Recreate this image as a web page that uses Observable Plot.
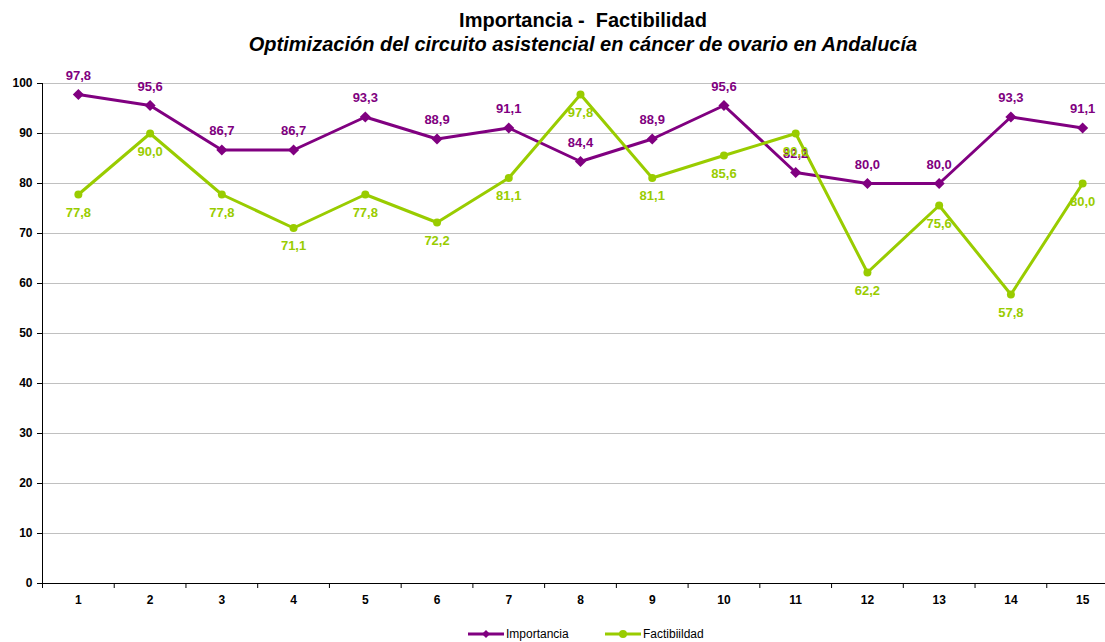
<!DOCTYPE html>
<html><head><meta charset="utf-8">
<script src="https://cdn.jsdelivr.net/npm/d3@7"></script>
<script src="https://cdn.jsdelivr.net/npm/@observablehq/plot@0.6"></script>
<style>
body{margin:0;background:#fff;font-family:"Liberation Sans",Arial,sans-serif;overflow:hidden;width:1105px;height:642px;position:relative}
.t{position:absolute;left:0;width:1166px;text-align:center;font-weight:bold;color:#000;white-space:pre;line-height:24px}
#chart{position:absolute;left:0;top:58px}
#legend{position:absolute;top:627px;left:0;width:1105px;font-size:12px}
.li{position:absolute;display:flex;align-items:center}
.li svg{margin-right:2px}
</style></head><body>
<div class="t" style="top:8px;font-size:20px">Importancia -  Factibilidad</div>
<div class="t" style="top:32px;font-size:20px;font-style:italic">Optimización del circuito asistencial en cáncer de ovario en Andalucía</div>
<div id="chart"></div>
<div id="legend"></div>
<script>
const categories = [1,2,3,4,5,6,7,8,9,10,11,12,13,14,15];
const importancia = [97.8,95.6,86.7,86.7,93.3,88.9,91.1,84.4,88.9,95.6,82.2,80.0,80.0,93.3,91.1];
const factibilidad = [77.8,90.0,77.8,71.1,77.8,72.2,81.1,97.8,81.1,85.6,90.0,62.2,75.6,57.8,80.0];
const yTicks = [0,10,20,30,40,50,60,70,80,90,100];
const seriesNames = ["Importancia","Factibilidad"];
const legendLabels = ["Importancia","Factibiildad"];
const colors = ["#800080","#99CC00"];

const dataI = categories.map((c,i)=>({x:c,y:importancia[i]}));
const dataF = categories.map((c,i)=>({x:c,y:factibilidad[i]}));
const fmt = v => v.toFixed(1).replace(".",",");
const edges = d3.range(0.5, 16, 1);

const chart = Plot.plot({
  width:1105, height:562,
  marginTop:25, marginBottom:37, marginLeft:42, marginRight:0,
  style:{fontFamily:'"Liberation Sans",Arial,sans-serif', overflow:"visible"},
  x:{type:"linear", domain:[0.5,15.5], range:[42,1118]},
  y:{domain:[0,100]},
  marks:[
    Plot.ruleY(yTicks.filter(d=>d>0),{stroke:"#c0c0c0",strokeWidth:1}),
    Plot.axisY({ticks:yTicks, tickSize:5, tickPadding:5, fontSize:12, fontWeight:"bold", fill:"#000", label:null}),
    Plot.axisX({ticks:edges, tickSize:5, tickFormat:()=>"", label:null}),
    Plot.axisX({ticks:categories, tickSize:0, tickPadding:12, fontSize:12, fontWeight:"bold", fill:"#000", label:null, tickFormat:d=>d}),
    Plot.ruleX([0.5],{stroke:"#000"}),
    Plot.ruleY([0],{stroke:"#000"}),
    Plot.line(dataI,{x:"x",y:"y",stroke:colors[0],strokeWidth:3}),
    Plot.line(dataF,{x:"x",y:"y",stroke:colors[1],strokeWidth:3}),
    Plot.dot(dataI,{x:"x",y:"y",symbol:"diamond2",r:5,fill:colors[0],stroke:"none"}),
    Plot.dot(dataF,{x:"x",y:"y",symbol:"circle",r:4,fill:colors[1],stroke:"none"}),
    Plot.text(dataI,{x:"x",y:"y",text:d=>fmt(d.y),dy:-19,fill:colors[0],fontSize:13,fontWeight:"bold"}),
    Plot.text(dataF,{x:"x",y:"y",text:d=>fmt(d.y),dy:18,fill:colors[1],fontSize:13,fontWeight:"bold"})
  ]
});
chart.style.maxWidth="none";
document.getElementById("chart").appendChild(chart);

const leg = document.getElementById("legend");
const lx = [468, 605];
legendLabels.forEach((lab,i)=>{
  const d = document.createElement("div");
  d.className="li"; d.style.left=lx[i]+"px";
  const mk = i===0
    ? `<polygon points="18,1 22,5 18,9 14,5" fill="${colors[i]}"/>`
    : `<circle cx="18" cy="5" r="4" fill="${colors[i]}"/>`;
  d.innerHTML = `<svg width="36" height="10"><line x1="0" x2="36" y1="5" y2="5" stroke="${colors[i]}" stroke-width="3"/>${mk}</svg><span>${lab}</span>`;
  leg.appendChild(d);
});
</script>
</body></html>
